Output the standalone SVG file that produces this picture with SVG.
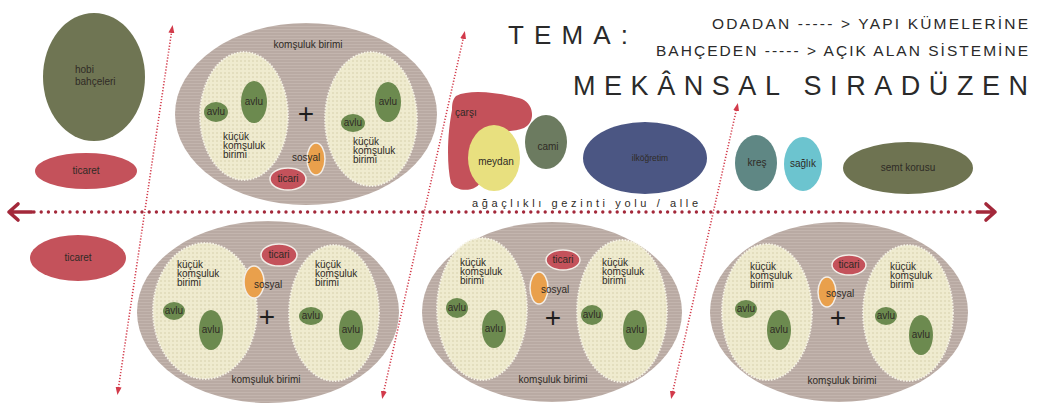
<svg xmlns="http://www.w3.org/2000/svg" width="1037" height="420" viewBox="0 0 1037 420">
<defs>
<style>
text{font-family:"Liberation Sans",Arial,sans-serif;fill:#2f2b26}
.s{font-size:10px}
.c{text-anchor:middle}
.plus{font-size:28px;text-anchor:middle;fill:#1e1e1e}
.outer{fill:url(#lines)}
.inner{fill:url(#dots);stroke:#f6f3e6;stroke-width:1.8;stroke-dasharray:1.5 1.5}
.avlu{fill:#6c8a4f}
.tic{fill:#c4525b;stroke:#f3eee8;stroke-width:1.5}
.sos{fill:#e9a04c;stroke:#f3eee8;stroke-width:1.5}
.diag{fill:none;stroke:#d23a4a;stroke-width:1.6;stroke-dasharray:1.2 1.8}
.hdot{fill:none;stroke:#a3283a;stroke-width:3.4;stroke-linecap:round;stroke-dasharray:0 7.2}
.harrow{fill:none;stroke:#a3283a;stroke-width:3.6;stroke-linecap:round;stroke-linejoin:round}
.title{fill:#2a2a2a;font-weight:normal}
</style>
<pattern id="lines" width="4" height="3" patternUnits="userSpaceOnUse"><rect width="4" height="3" fill="#b9aaa3"/><rect y="2" width="4" height="1" fill="#c3b5ae"/></pattern>
<pattern id="dots" width="4" height="4" patternUnits="userSpaceOnUse"><rect width="4" height="4" fill="#efebcf"/><circle cx="1" cy="1" r="0.75" fill="#d2cba5"/></pattern>
<marker id="tri" markerWidth="8" markerHeight="8" refX="4" refY="4" orient="auto-start-reverse" markerUnits="userSpaceOnUse"><path d="M0,1 L8,4 L0,7 Z" fill="#d23a4a"/></marker>
</defs>
<rect width="1037" height="420" fill="#ffffff"/>

<g id="connectors">
<line class="diag" x1="118" y1="391" x2="172" y2="29" marker-start="url(#tri)" marker-end="url(#tri)"/>
<line class="diag" x1="383" y1="395" x2="464" y2="35" marker-start="url(#tri)" marker-end="url(#tri)"/>
<line class="diag" x1="672" y1="395" x2="737" y2="107" marker-start="url(#tri)" marker-end="url(#tri)"/>
<line class="hdot" x1="34" y1="212" x2="978" y2="212"/>
<path class="harrow" d="M32,212 H9 M18,204 L9,212 L18,220"/>
<path class="harrow" d="M978,212 H995 M986,204 L995,212 L986,220"/>
</g>

<g id="title">
<text class="title" x="508" y="44" font-size="26" textLength="120" lengthAdjust="spacing">TEMA:</text>
<text class="title" x="1028" y="29" font-size="15.5" text-anchor="end" textLength="316" lengthAdjust="spacing">ODADAN  ----- &gt;  YAPI KÜMELERİNE</text>
<text class="title" x="1028" y="56" font-size="15.5" text-anchor="end" textLength="372" lengthAdjust="spacing">BAHÇEDEN  ----- &gt;  AÇIK ALAN SİSTEMİNE</text>
<text class="title" x="573" y="95" font-size="27" textLength="455" lengthAdjust="spacing">MEKÂNSAL SIRADÜZEN</text>
</g>

<g id="alle-label">
<text x="472" y="207" font-size="11" textLength="226" lengthAdjust="spacing">ağaçlıklı gezinti yolu / alle</text>
</g>

<g id="hobi">
<ellipse cx="94" cy="77" rx="51" ry="64" fill="#6f7553"/>
<text class="s" x="75" y="73">hobi</text>
<text class="s" x="75" y="85">bahçeleri</text>
</g>
<g id="ticaret-top">
<ellipse cx="86" cy="171" rx="51" ry="18" fill="#c4525b"/>
<text class="s c" x="86" y="174">ticaret</text>
</g>
<g id="ticaret-bottom">
<ellipse cx="78" cy="258" rx="48" ry="23" fill="#c4525b"/>
<text class="s c" x="78" y="261">ticaret</text>
</g>

<g id="komsuluk-top">
<ellipse class="outer" cx="306" cy="114" rx="131" ry="91"/>
<text class="s c" x="308" y="48">komşuluk birimi</text>
<ellipse class="inner" cx="244" cy="116" rx="44" ry="64"/>
<ellipse class="inner" cx="371" cy="119" rx="46" ry="67"/>
<ellipse class="avlu" cx="216" cy="112" rx="12" ry="10"/><text class="s c" x="216" y="115">avlu</text>
<ellipse class="avlu" cx="254" cy="102" rx="13" ry="21"/><text class="s c" x="254" y="105">avlu</text>
<ellipse class="avlu" cx="388" cy="102" rx="13" ry="20"/><text class="s c" x="388" y="105">avlu</text>
<ellipse class="avlu" cx="353" cy="123" rx="12" ry="9"/><text class="s c" x="353" y="126">avlu</text>
<text class="s" x="223" y="140">küçük</text><text class="s" x="223" y="149">komşuluk</text><text class="s" x="223" y="158">birimi</text>
<text class="s" x="353" y="145">küçük</text><text class="s" x="353" y="154">komşuluk</text><text class="s" x="353" y="163">birimi</text>
<text class="plus" x="306" y="123">+</text>
<ellipse class="sos" cx="316" cy="159" rx="9" ry="16"/>
<text class="s" x="292" y="161">sosyal</text>
<ellipse class="tic" cx="288" cy="179" rx="18" ry="11"/>
<text class="s c" x="288" y="182">ticari</text>
</g>

<g id="carsi">
<path d="M456,96 C472,88 505,94 522,99 C534,104 536,122 524,128 C510,134 492,128 486,140 L481,180 C479,192 456,193 451,183 C446,162 448,130 452,110 C452,103 453,99 456,96 Z" fill="#c4515a"/>
<text class="s" x="455" y="116">çarşı</text>
</g>
<g id="meydan">
<ellipse cx="494" cy="158" rx="26" ry="33" fill="#e8e07f"/>
<text class="s c" x="496" y="165">meydan</text>
</g>
<g id="cami">
<ellipse cx="546" cy="142" rx="21" ry="27" fill="#6c7b60"/>
<text class="s c" x="548" y="150">cami</text>
</g>
<g id="ilkogretim">
<ellipse cx="645" cy="158" rx="62" ry="36" fill="#4b5683"/>
<text class="c" x="650" y="161" font-size="8.5">ilköğretim</text>
</g>
<g id="kres">
<ellipse cx="756" cy="163" rx="21" ry="28" fill="#5f8784"/>
<text class="s c" x="757" y="166">kreş</text>
</g>
<g id="saglik">
<ellipse cx="803" cy="164" rx="19" ry="27" fill="#6cc4cf"/>
<text class="s c" x="803" y="167">sağlık</text>
</g>
<g id="semt-korusu">
<ellipse cx="908" cy="168" rx="65" ry="26" fill="#6e7351"/>
<text class="s c" x="908" y="171">semt korusu</text>
</g>

<g id="komsuluk-bottom-left">
<ellipse class="outer" cx="268" cy="312" rx="131" ry="91"/>
<ellipse class="inner" cx="205" cy="311" rx="52" ry="68"/>
<ellipse class="inner" cx="334" cy="313" rx="45" ry="68"/>
<ellipse class="tic" cx="279" cy="255" rx="18" ry="11"/><text class="s c" x="279" y="258">ticari</text>
<ellipse class="sos" cx="254" cy="282" rx="10" ry="16"/><text class="s" x="254" y="288">sosyal</text>
<text class="plus" x="267" y="326">+</text>
<text class="s" x="177" y="268">küçük</text><text class="s" x="177" y="277">komşuluk</text><text class="s" x="177" y="286">birimi</text>
<text class="s" x="315" y="268">küçük</text><text class="s" x="315" y="277">komşuluk</text><text class="s" x="315" y="286">birimi</text>
<ellipse class="avlu" cx="174" cy="311" rx="11" ry="9"/><text class="s c" x="174" y="314">avlu</text>
<ellipse class="avlu" cx="211" cy="330" rx="12" ry="20"/><text class="s c" x="211" y="333">avlu</text>
<ellipse class="avlu" cx="311" cy="316" rx="12" ry="9"/><text class="s c" x="311" y="319">avlu</text>
<ellipse class="avlu" cx="351" cy="330" rx="12" ry="20"/><text class="s c" x="351" y="333">avlu</text>
<text class="s c" x="266" y="383">komşuluk birimi</text>
</g>

<g id="komsuluk-bottom-middle">
<ellipse class="outer" cx="552" cy="312" rx="130" ry="90"/>
<ellipse class="inner" cx="482" cy="309" rx="45" ry="71"/>
<ellipse class="inner" cx="622" cy="311" rx="45" ry="71"/>
<ellipse class="tic" cx="563" cy="260" rx="17" ry="10"/><text class="s c" x="563" y="263">ticari</text>
<ellipse class="sos" cx="539" cy="288" rx="9" ry="16"/><text class="s" x="541" y="293">sosyal</text>
<text class="plus" x="553" y="327">+</text>
<text class="s" x="460" y="266">küçük</text><text class="s" x="460" y="275">komşuluk</text><text class="s" x="460" y="284">birimi</text>
<text class="s" x="602" y="266">küçük</text><text class="s" x="602" y="275">komşuluk</text><text class="s" x="602" y="284">birimi</text>
<ellipse class="avlu" cx="457" cy="308" rx="11" ry="10"/><text class="s c" x="457" y="311">avlu</text>
<ellipse class="avlu" cx="494" cy="329" rx="12" ry="19"/><text class="s c" x="494" y="332">avlu</text>
<ellipse class="avlu" cx="592" cy="315" rx="11" ry="10"/><text class="s c" x="592" y="318">avlu</text>
<ellipse class="avlu" cx="635" cy="330" rx="12" ry="20"/><text class="s c" x="635" y="333">avlu</text>
<text class="s c" x="553" y="383">komşuluk birimi</text>
</g>

<g id="komsuluk-bottom-right">
<ellipse class="outer" cx="839" cy="312" rx="129" ry="90"/>
<ellipse class="inner" cx="767" cy="312" rx="45" ry="68"/>
<ellipse class="inner" cx="908" cy="313" rx="45" ry="68"/>
<ellipse class="tic" cx="849" cy="265" rx="17" ry="10"/><text class="s c" x="849" y="268">ticari</text>
<ellipse class="sos" cx="827" cy="292" rx="9" ry="15"/><text class="s" x="826" y="297">sosyal</text>
<text class="plus" x="838" y="327">+</text>
<text class="s" x="750" y="270">küçük</text><text class="s" x="750" y="279">komşuluk</text><text class="s" x="750" y="288">birimi</text>
<text class="s" x="890" y="270">küçük</text><text class="s" x="890" y="279">komşuluk</text><text class="s" x="890" y="288">birimi</text>
<ellipse class="avlu" cx="746" cy="309" rx="11" ry="9"/><text class="s c" x="746" y="312">avlu</text>
<ellipse class="avlu" cx="779" cy="330" rx="12" ry="20"/><text class="s c" x="779" y="333">avlu</text>
<ellipse class="avlu" cx="886" cy="316" rx="11" ry="9"/><text class="s c" x="886" y="319">avlu</text>
<ellipse class="avlu" cx="921" cy="335" rx="12" ry="20"/><text class="s c" x="921" y="338">avlu</text>
<text class="s c" x="842" y="384">komşuluk birimi</text>
</g>
</svg>
